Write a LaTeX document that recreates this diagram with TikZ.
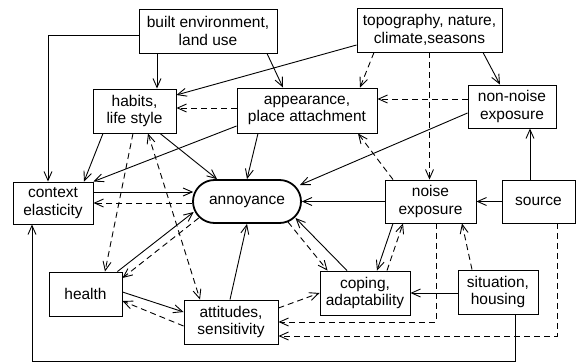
\documentclass[tikz,border=0pt]{standalone}
\usepackage{fontspec}
\setmainfont{Liberation Sans}
\usetikzlibrary{arrows.meta, shapes.misc, calc}

\begin{document}
\begin{tikzpicture}[
	x=1pt, y=-1pt,
	>={Straight Barb[length=9pt, width=8pt]},
	every node/.style={font=\fontsize{15.5}{17.5}\selectfont},
	box/.style={rectangle, draw=black, line width=0.9pt, inner sep=2pt, align=center},
	annbox/.style={rounded rectangle, draw=black, line width=1.8pt, inner sep=2pt, minimum width=112pt, minimum height=43pt},
	arr/.style={->, line width=0.9pt},
	dsh/.style={arr, dash pattern=on 6pt off 4pt}
]
\useasboundingbox (0,0) rectangle (576,364);

% Outer factors
\node[box, minimum width=138pt, minimum height=44pt] (built) at (208,31) {built environment,\\ land use};
\node[box, minimum width=145pt, minimum height=44pt] (topo) at (429.5,30) {topography, nature,\\ climate,seasons};
\node[box, minimum width=83pt, minimum height=44pt] (habits) at (134.5,111) {habits,\\ life style};
\node[box, minimum width=140pt, minimum height=45pt] (app) at (307,110.5) {appearance,\\ place attachment};
\node[box, minimum width=88pt, minimum height=43pt] (nonnoise) at (512,106.5) {non-noise\\ exposure};

% Middle row
\node[box, minimum width=80pt, minimum height=42pt] (ctx) at (53,203) {context\\ elasticity};
\node[annbox] (ann) at (247,201.5) {annoyance};
\node[box, minimum width=91pt, minimum height=43pt] (noise) at (430.5,201.5) {noise\\ exposure};
\node[box, minimum width=73pt, minimum height=43pt] (source) at (538.5,201.5) {source};

% Personal factors
\node[box, minimum width=73pt, minimum height=44pt] (health) at (85.5,294) {health};
\node[box, minimum width=94pt, minimum height=44pt] (att) at (231,322) {attitudes,\\ sensitivity};
\node[box, minimum width=90pt, minimum height=44pt] (coping) at (365,293) {coping,\\ adaptability};
\node[box, minimum width=80pt, minimum height=44pt] (sit) at (498,292) {situation,\\ housing};

% Solid arrows
\draw[arr] ($(built.west)+(0,4)$) -| ($(ctx.north)+(-5,0)$);
\draw[arr] ($(built.south)+(-51,0)$) -- ($(habits.north)+(22.5,0)$);
\draw[arr] ($(built.south)+(59,0)$) -- ($(app.north)+(-24,0)$);
\draw[arr] ($(topo.west)+(0,15)$) -- ($(habits.east)+(0,-16)$);
\draw[arr] ($(topo.south)+(53.5,0)$) -- ($(nonnoise.north)+(-12,0)$);
\draw[arr] ($(nonnoise.west)+(0,6.5)$) -- ($(ann)+(53,-16.5)$);
\draw[arr] ($(app.west)+(0,15.5)$) -- (ctx.north east);
\draw[arr] ($(app.south)+(-49,0)$) -- (ann.north);
\draw[arr] ($(habits.south)+(-31.5,0)$) -- ($(ctx.north)+(31,0)$);
\draw[arr] ($(habits.south)+(25.5,0)$) -- ($(ann.north)+(-30,0)$);
\draw[arr] ($(ctx.east)+(0,-11)$) -- ($(ann)+(-53.8,-9.5)$);
\draw[arr] ($(health.north east)+(-5,0)$) -- ($(ann)+(-53.3,10.5)$);
\draw[arr] ($(health.east)+(0,-2)$) -- ($(att.west)+(0,-10)$);
\draw[arr] ($(att.north)+(-1,0)$) -- (ann.south);
\draw[arr] (noise.west) -- (ann.east);
\draw[arr] (source.west) -- (noise.east);
\draw[arr] ($(source.north)+(-8.5,0)$) -- ($(nonnoise.south)+(18,0)$);
\draw[arr] ($(noise.south)+(-37.5,0)$) -- ($(coping.north)+(12,0)$);
\draw[arr] ($(coping.north)+(-18,0)$) -- ($(ann)+(48.5,16.5)$);
\draw[arr] ($(sit.west)+(0,1)$) -- (coping.east);
\draw[arr] ($(sit.south)+(17,0)$) |- ($(ctx.south)+(-21,137)$) -- ($(ctx.south)+(-21,0)$);

% Dashed arrows
\draw[dsh] ($(topo.south)+(-55.5,0)$) -- ($(app.north)+(53,0)$);
\draw[dsh] (topo.south) -- (topo.south |- noise.north);
\draw[dsh] ($(nonnoise.west)+(0,-7.5)$) -- ($(app.east)+(0,-11.5)$);
\draw[dsh] ($(app.west)+(0,-2.5)$) -- ($(habits.east)+(0,-3)$);
\draw[dsh] ($(habits.south)+(-1.5,0)$) -- ($(health.north)+(19.5,0)$);
\draw[dsh, <->] ($(habits.south)+(13.5,0)$) -- ($(att.north)+(-31,0)$);
\draw[dsh] ($(ann.west)+(0,1.5)$) -- (ctx.east);
\draw[dsh] ($(ann)+(-48.3,16.5)$) -- ($(health.east)+(0,-16)$);
\draw[dsh] ($(att.west)+(0,4)$) -- ($(health.east)+(0,7)$);
\draw[dsh] ($(att.east)+(0,-14)$) -- (coping.west);
\draw[dsh] ($(noise.south)+(5.5,0)$) |- (att.east);
\draw[dsh] ($(source.south)+(18.5,0)$) |- ($(att.east)+(0,14)$);
\draw[dsh] ($(sit.north)+(-26,0)$) -- ($(noise.south)+(31.5,0)$);
\draw[dsh] ($(noise.north)+(-37.5,0)$) -- ($(app.south)+(51,0)$);
\draw[dsh] ($(coping.north)+(22,0)$) -- ($(noise.south)+(-27.5,0)$);
\draw[dsh] ($(ann)+(41,20.5)$) -- ($(coping.north west)+(8,0)$);

\end{tikzpicture}
\end{document}
